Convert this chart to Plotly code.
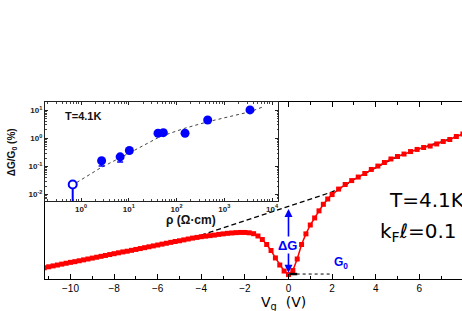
import plotly.graph_objects as go

# ---------------- main panel data: G vs Vg (arbitrary units) ----------------
vg = [-11.2, -11.0, -10.8, -10.6, -10.4, -10.2, -10.0, -9.8, -9.6, -9.4, -9.2, -9.0,
      -8.8, -8.6, -8.4, -8.2, -8.0, -7.8, -7.6, -7.4, -7.2, -7.0, -6.8, -6.6, -6.4,
      -6.2, -6.0, -5.8, -5.6, -5.4, -5.2, -5.0, -4.8, -4.6,
      -4.4, -4.2, -4.0, -3.8, -3.6, -3.4, -3.2, -3.0, -2.8, -2.6, -2.4, -2.2, -2.0,
      -1.8, -1.6, -1.4, -1.2, -1.0, -0.8, -0.6, -0.4, -0.2, 0.0, 0.2, 0.4, 0.6, 0.8,
      1.0, 1.2, 1.4, 1.6, 1.8, 2.0,
      2.3, 2.6, 2.9, 3.2, 3.5, 3.8, 4.1, 4.4, 4.7, 5.0, 5.3, 5.6, 5.9, 6.2, 6.5,
      6.8, 7.1, 7.4, 7.7, 8.0]
g = [0.64, 0.69, 0.74, 0.79, 0.84, 0.89, 0.94, 0.98, 1.03, 1.08, 1.13, 1.18,
     1.23, 1.28, 1.33, 1.38, 1.43, 1.48, 1.53, 1.57, 1.62, 1.67, 1.72, 1.77, 1.82,
     1.87, 1.92, 1.97, 2.02, 2.07, 2.12, 2.16, 2.21, 2.26,
     2.31, 2.35, 2.39, 2.42, 2.45, 2.48, 2.52, 2.55, 2.58, 2.60, 2.62, 2.63, 2.63,
     2.61, 2.56, 2.43, 2.23, 1.95, 1.61, 1.19, 0.79, 0.45, 0.25, 0.48, 1.13, 1.95, 2.55,
     3.05, 3.45, 3.85, 4.22, 4.52, 4.77,
     5.08, 5.34, 5.56, 5.76, 5.96, 6.19, 6.38, 6.58, 6.78, 6.92, 7.06, 7.20, 7.32, 7.43, 7.51,
     7.63, 7.77, 7.88, 8.05, 8.19]

# extrapolated (dashed) background conductance
fit_vg = [-11.2, -8, -6, -5, -4.5, -4, -3.5, -3, -2.5, -2, -1.5, -1, -0.5, 0, 0.5, 1,
          1.5, 2, 2.5, 3, 3.5, 4, 5, 6, 7, 8]
fit_g = [0.64, 1.43, 1.92, 2.17, 2.31, 2.48, 2.68, 2.88, 3.09, 3.30, 3.51, 3.72, 3.92,
         4.12, 4.31, 4.50, 4.70, 4.92, 5.20, 5.62, 5.96, 6.28, 6.92, 7.37, 7.75, 8.19]

# Delta G / G0 markers
dg_top = 3.95      # head of upward arrow (near dashed line at Vg=0)
dg_low = 2.32      # tail of upward arrow
dg_dn_start = 1.55
dg_dn_end = 0.35
dg_label_y = 1.92
g0_level = 0.28
g0_dot_x = [0.1, 2.0]
g0_bar_x = [0.05, 0.4]

x_ticks = [-10, -8, -6, -4, -2, 0, 2, 4, 6]

# ---------------- inset data: dG/G0 (%) vs rho (Ohm cm) ----------------
rho = [0.67, 2.7, 6.6, 10.3, 41, 53, 151, 450, 3460]
dgg = [0.023, 0.16, 0.22, 0.37, 1.52, 1.6, 1.52, 4.5, 10.3]
dgg_err_minus = [0.0228, 0.055, 0.075, 0.075, 0.0, 0.0, 0.0, 0.0, 0.0]
rho_fit = [0.64, 2.5, 12.5, 45, 150, 450, 3500, 6600]
dgg_fit = [0.021, 0.087, 0.36, 1.15, 2.3, 3.9, 8.9, 13.4]
inset_xticks = [1, 10, 100, 1000, 10000]
inset_xtext = ["10<sup>0</sup>", "10<sup>1</sup>", "10<sup>2</sup>", "10<sup>3</sup>", "10<sup>4</sup>"]
inset_yticks = [0.01, 0.1, 1, 10]
inset_ytext = ["10<sup>-2</sup>", "10<sup>-1</sup>", "10<sup>0</sup>", "10<sup>1</sup>"]

RED = "#ff0000"
BLUE = "#0000ff"

fig = go.Figure()

# main dashed line
fig.add_trace(go.Scatter(x=fit_vg, y=fit_g, mode="lines",
                         line=dict(color="black", width=1.3, dash="5px,3px"),
                         xaxis="x", yaxis="y", showlegend=False, hoverinfo="skip"))
# main red data
fig.add_trace(go.Scatter(x=vg, y=g, mode="lines+markers",
                         line=dict(color=RED, width=1.5),
                         marker=dict(symbol="square", size=5, color=RED),
                         xaxis="x", yaxis="y", showlegend=False))
# G0 dotted reference
fig.add_trace(go.Scatter(x=g0_dot_x, y=[g0_level, g0_level], mode="lines",
                         line=dict(color="black", width=1, dash="dot"),
                         xaxis="x", yaxis="y", showlegend=False, hoverinfo="skip"))
fig.add_trace(go.Scatter(x=g0_bar_x, y=[g0_level, g0_level], mode="lines",
                         line=dict(color="black", width=2.5),
                         xaxis="x", yaxis="y", showlegend=False, hoverinfo="skip"))

# inset fit
fig.add_trace(go.Scatter(x=rho_fit, y=dgg_fit, mode="lines",
                         line=dict(color="#444444", width=1, dash="3px,3px"),
                         xaxis="x2", yaxis="y2", showlegend=False, hoverinfo="skip"))
# inset filled points
fig.add_trace(go.Scatter(x=rho[1:], y=dgg[1:], mode="markers",
                         marker=dict(symbol="circle", size=9, color=BLUE),
                         error_y=dict(type="data", symmetric=False,
                                      array=[0.0] * (len(rho) - 1),
                                      arrayminus=dgg_err_minus[1:],
                                      color=BLUE, thickness=1.5, width=3),
                         xaxis="x2", yaxis="y2", showlegend=False))
# inset open point
fig.add_trace(go.Scatter(x=rho[:1], y=dgg[:1], mode="markers",
                         marker=dict(symbol="circle", size=8, color="white",
                                     line=dict(color=BLUE, width=2)),
                         error_y=dict(type="data", symmetric=False, array=[0.0],
                                      arrayminus=dgg_err_minus[:1],
                                      color=BLUE, thickness=2, width=0),
                         xaxis="x2", yaxis="y2", showlegend=False))

minor_vals = []
for dec in [0.1, 1, 10, 100, 1000]:
    for k in range(2, 10):
        minor_vals.append(k * dec)
minor_y = []
for dec in [0.001, 0.01, 0.1, 1, 10]:
    for k in range(2, 10):
        minor_y.append(k * dec)

tickfont_inset = dict(family="Liberation Sans", size=8, color="#222222", weight="bold")

fig.update_layout(
    width=462, height=311,
    margin=dict(l=45, r=0, t=102, b=32),
    paper_bgcolor="white", plot_bgcolor="white",
    font=dict(family="Liberation Sans", color="black"),
    xaxis=dict(domain=[0, 1], range=[-11.17, 7.96], showline=True, linecolor="black",
               linewidth=1.3, mirror="ticks", ticks="inside", ticklen=5, tickcolor="black",
               tickmode="array", tickvals=x_ticks, showgrid=False, zeroline=False,
               tickfont=dict(family="Liberation Sans", size=10, color="black"),
               minor=dict(dtick=1, ticks="inside", ticklen=3, tickcolor="black", showgrid=False),
               anchor="y"),
    yaxis=dict(domain=[0, 1], range=[0, 10], showline=True, linecolor="black", linewidth=1.3,
               showticklabels=False, ticks="", showgrid=False, zeroline=False, anchor="x"),
    xaxis2=dict(domain=[0, 0.5588], type="log", range=[-0.754, 4.126], anchor="y2",
                showline=True, linecolor="#222222", linewidth=1, mirror="ticks",
                ticks="inside", ticklen=3, tickcolor="#222222",
                tickmode="array", tickvals=inset_xticks, ticktext=inset_xtext,
                tickfont=tickfont_inset, showgrid=False, zeroline=False,
                minor=dict(tickmode="array", tickvals=minor_vals, ticks="inside",
                           ticklen=1.5, tickcolor="#444444", showgrid=False)),
    yaxis2=dict(domain=[0.4407, 1], type="log", range=[-2.228, 1.295], anchor="x2",
                showline=True, linecolor="#222222", linewidth=1, mirror="ticks",
                ticks="inside", ticklen=3, tickcolor="#222222",
                tickmode="array", tickvals=inset_yticks, ticktext=inset_ytext,
                tickfont=tickfont_inset, showgrid=False, zeroline=False,
                minor=dict(tickmode="array", tickvals=minor_y, ticks="inside",
                           ticklen=1.5, tickcolor="#444444", showgrid=False)),
)

ann = []
# delta G arrows
ann.append(dict(x=0, y=dg_top, ax=0, ay=dg_low, xref="x", yref="y", axref="x", ayref="y",
                text="", showarrow=True, arrowhead=2, arrowsize=1, arrowwidth=1.6,
                arrowcolor=BLUE))
ann.append(dict(x=0, y=dg_dn_end, ax=0, ay=dg_dn_start, xref="x", yref="y", axref="x",
                ayref="y", text="", showarrow=True, arrowhead=2, arrowsize=1, arrowwidth=1.6,
                arrowcolor=BLUE))
ann.append(dict(x=-0.05, y=dg_label_y, xref="x", yref="y", text="ΔG", showarrow=False,
                bgcolor="white", borderpad=0,
                font=dict(family="Liberation Sans", size=13, color=BLUE, weight="bold")))
ann.append(dict(x=2.0, y=g0_level + 0.05, xref="x", yref="y", text="G<sub>0</sub>",
                showarrow=False, xanchor="left", yanchor="bottom",
                font=dict(family="Liberation Sans", size=12, color=BLUE, weight="bold")))
# main texts
ann.append(dict(x=4.52, y=4.46, xref="x", yref="y", text="T=4.1K", showarrow=False,
                xanchor="left", yanchor="middle",
                font=dict(family="DejaVu Sans", size=20, color="black")))
ann.append(dict(x=4.1, y=2.68, xref="x", yref="y", text="k<sub>F</sub>ℓ=0.1",
                showarrow=False, xanchor="left", yanchor="middle",
                font=dict(family="DejaVu Sans", size=20, color="black")))
# main x title
ann.append(dict(x=0.573, y=-0.135, xref="paper", yref="paper", text="V<sub>g</sub>  (V)",
                showarrow=False, yanchor="middle",
                font=dict(family="DejaVu Sans", size=14, color="black")))
# inset texts
ann.append(dict(x=0.043, y=0.921, xref="paper", yref="paper", text="T=4.1K",
                showarrow=False, xanchor="left", yanchor="middle",
                font=dict(family="Liberation Sans", size=11, color="#111111", weight="bold")))
ann.append(dict(x=0.285, y=0.335, xref="paper", yref="paper", text="ρ (Ω·cm)",
                showarrow=False, yanchor="middle",
                font=dict(family="Liberation Sans", size=12, color="#111111", weight="bold")))
ann.append(dict(x=-0.079, y=0.717, xref="paper", yref="paper",
                text="ΔG/G<sub>0</sub> (%)", showarrow=False, textangle=-90,
                xanchor="center", yanchor="middle",
                font=dict(family="Liberation Sans", size=10, color="#111111", weight="bold")))
fig.update_layout(annotations=ann)

fig.write_html("out.html", config={"displayModeBar": False},
               post_script="document.body.style.margin='0';document.body.style.overflow='hidden';")
